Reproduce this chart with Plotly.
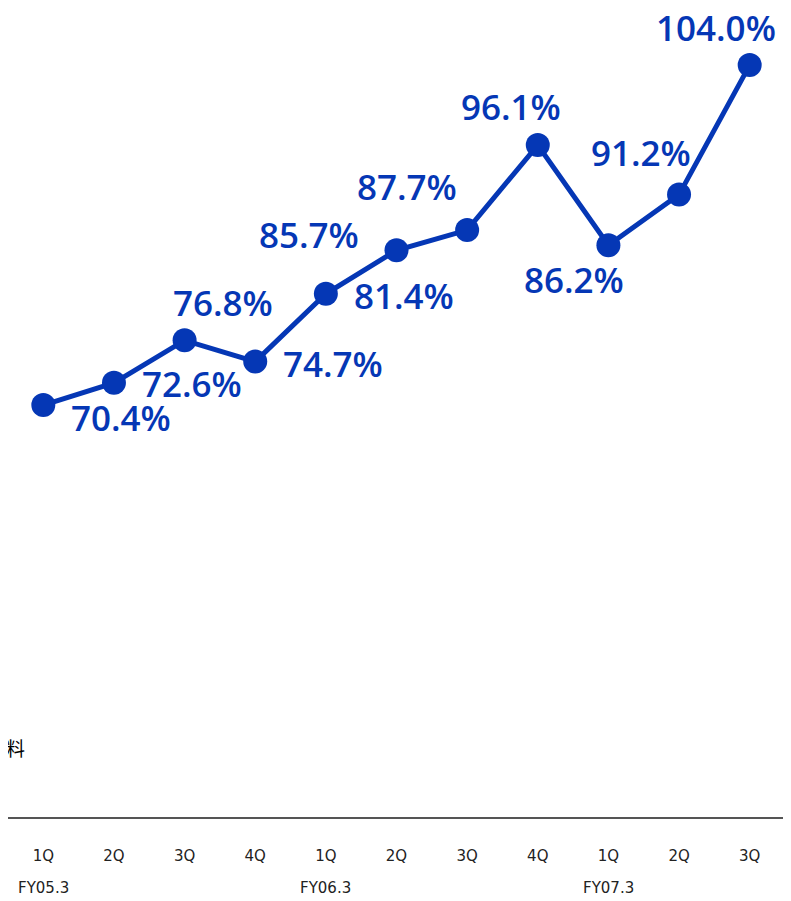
import plotly.graph_objects as go

quarters = ["1Q", "2Q", "3Q", "4Q", "1Q", "2Q", "3Q", "4Q", "1Q", "2Q", "3Q"]
fiscal_years = ["FY05.3", "", "", "", "FY06.3", "", "", "", "FY07.3", "", ""]
values = [70.4, 72.6, 76.8, 74.7, 81.4, 85.7, 87.7, 96.1, 86.2, 91.2, 104.0]
note_text = "資料"

# label offsets in pixels (dx, dy; dy positive = up)
label_offsets = [(78, -12), (78, -1), (38, 38), (78, -2), (78, -2), (-88, 16),
                 (-60, 44), (-27, 39), (-34, -34), (-38, 42), (-34, 38)]

BLUE = "#0537B5"
xs = list(range(len(values)))

fig = go.Figure()
fig.add_trace(go.Scatter(
    x=xs, y=values, mode="lines+markers",
    line=dict(color=BLUE, width=5),
    marker=dict(color=BLUE, size=24),
    hoverinfo="skip", cliponaxis=False,
))

for i, (v, (dx, dy)) in enumerate(zip(values, label_offsets)):
    fig.add_annotation(x=i, y=v, xref="x", yref="y", text=f"{v:.1f}%",
                       showarrow=False, xshift=dx, yshift=dy,
                       font=dict(family="Open Sans", size=35, color=BLUE, weight=600))

for i, fy in enumerate(fiscal_years):
    if fy:
        fig.add_annotation(x=i, y=0, xref="x", yref="paper", text=fy,
                           showarrow=False, yshift=-71, yanchor="middle",
                           font=dict(family="DejaVu Sans", size=15, color="#222222"))

fig.add_annotation(x=0.0245, y=0.0853, xref="paper", yref="paper", text=note_text,
                   showarrow=False, xanchor="right", yanchor="middle",
                   font=dict(family="Noto Sans CJK JP", size=19, color="#000000"))

fig.update_layout(
    width=783, height=893,
    margin=dict(l=0, r=6, t=0, b=84),
    paper_bgcolor="white", plot_bgcolor="white",
    showlegend=False,
    xaxis=dict(range=[-0.5, 10.5], tickmode="array", tickvals=xs, ticktext=quarters,
               showgrid=False, zeroline=False, showline=True, linecolor="#555555",
               linewidth=1.5, ticks="", ticklabelstandoff=24,
               tickfont=dict(family="DejaVu Sans", size=15, color="#222222")),
    yaxis=dict(range=[29.7, 109.64], visible=False, showgrid=False, zeroline=False),
)

fig.write_html("out.html")
